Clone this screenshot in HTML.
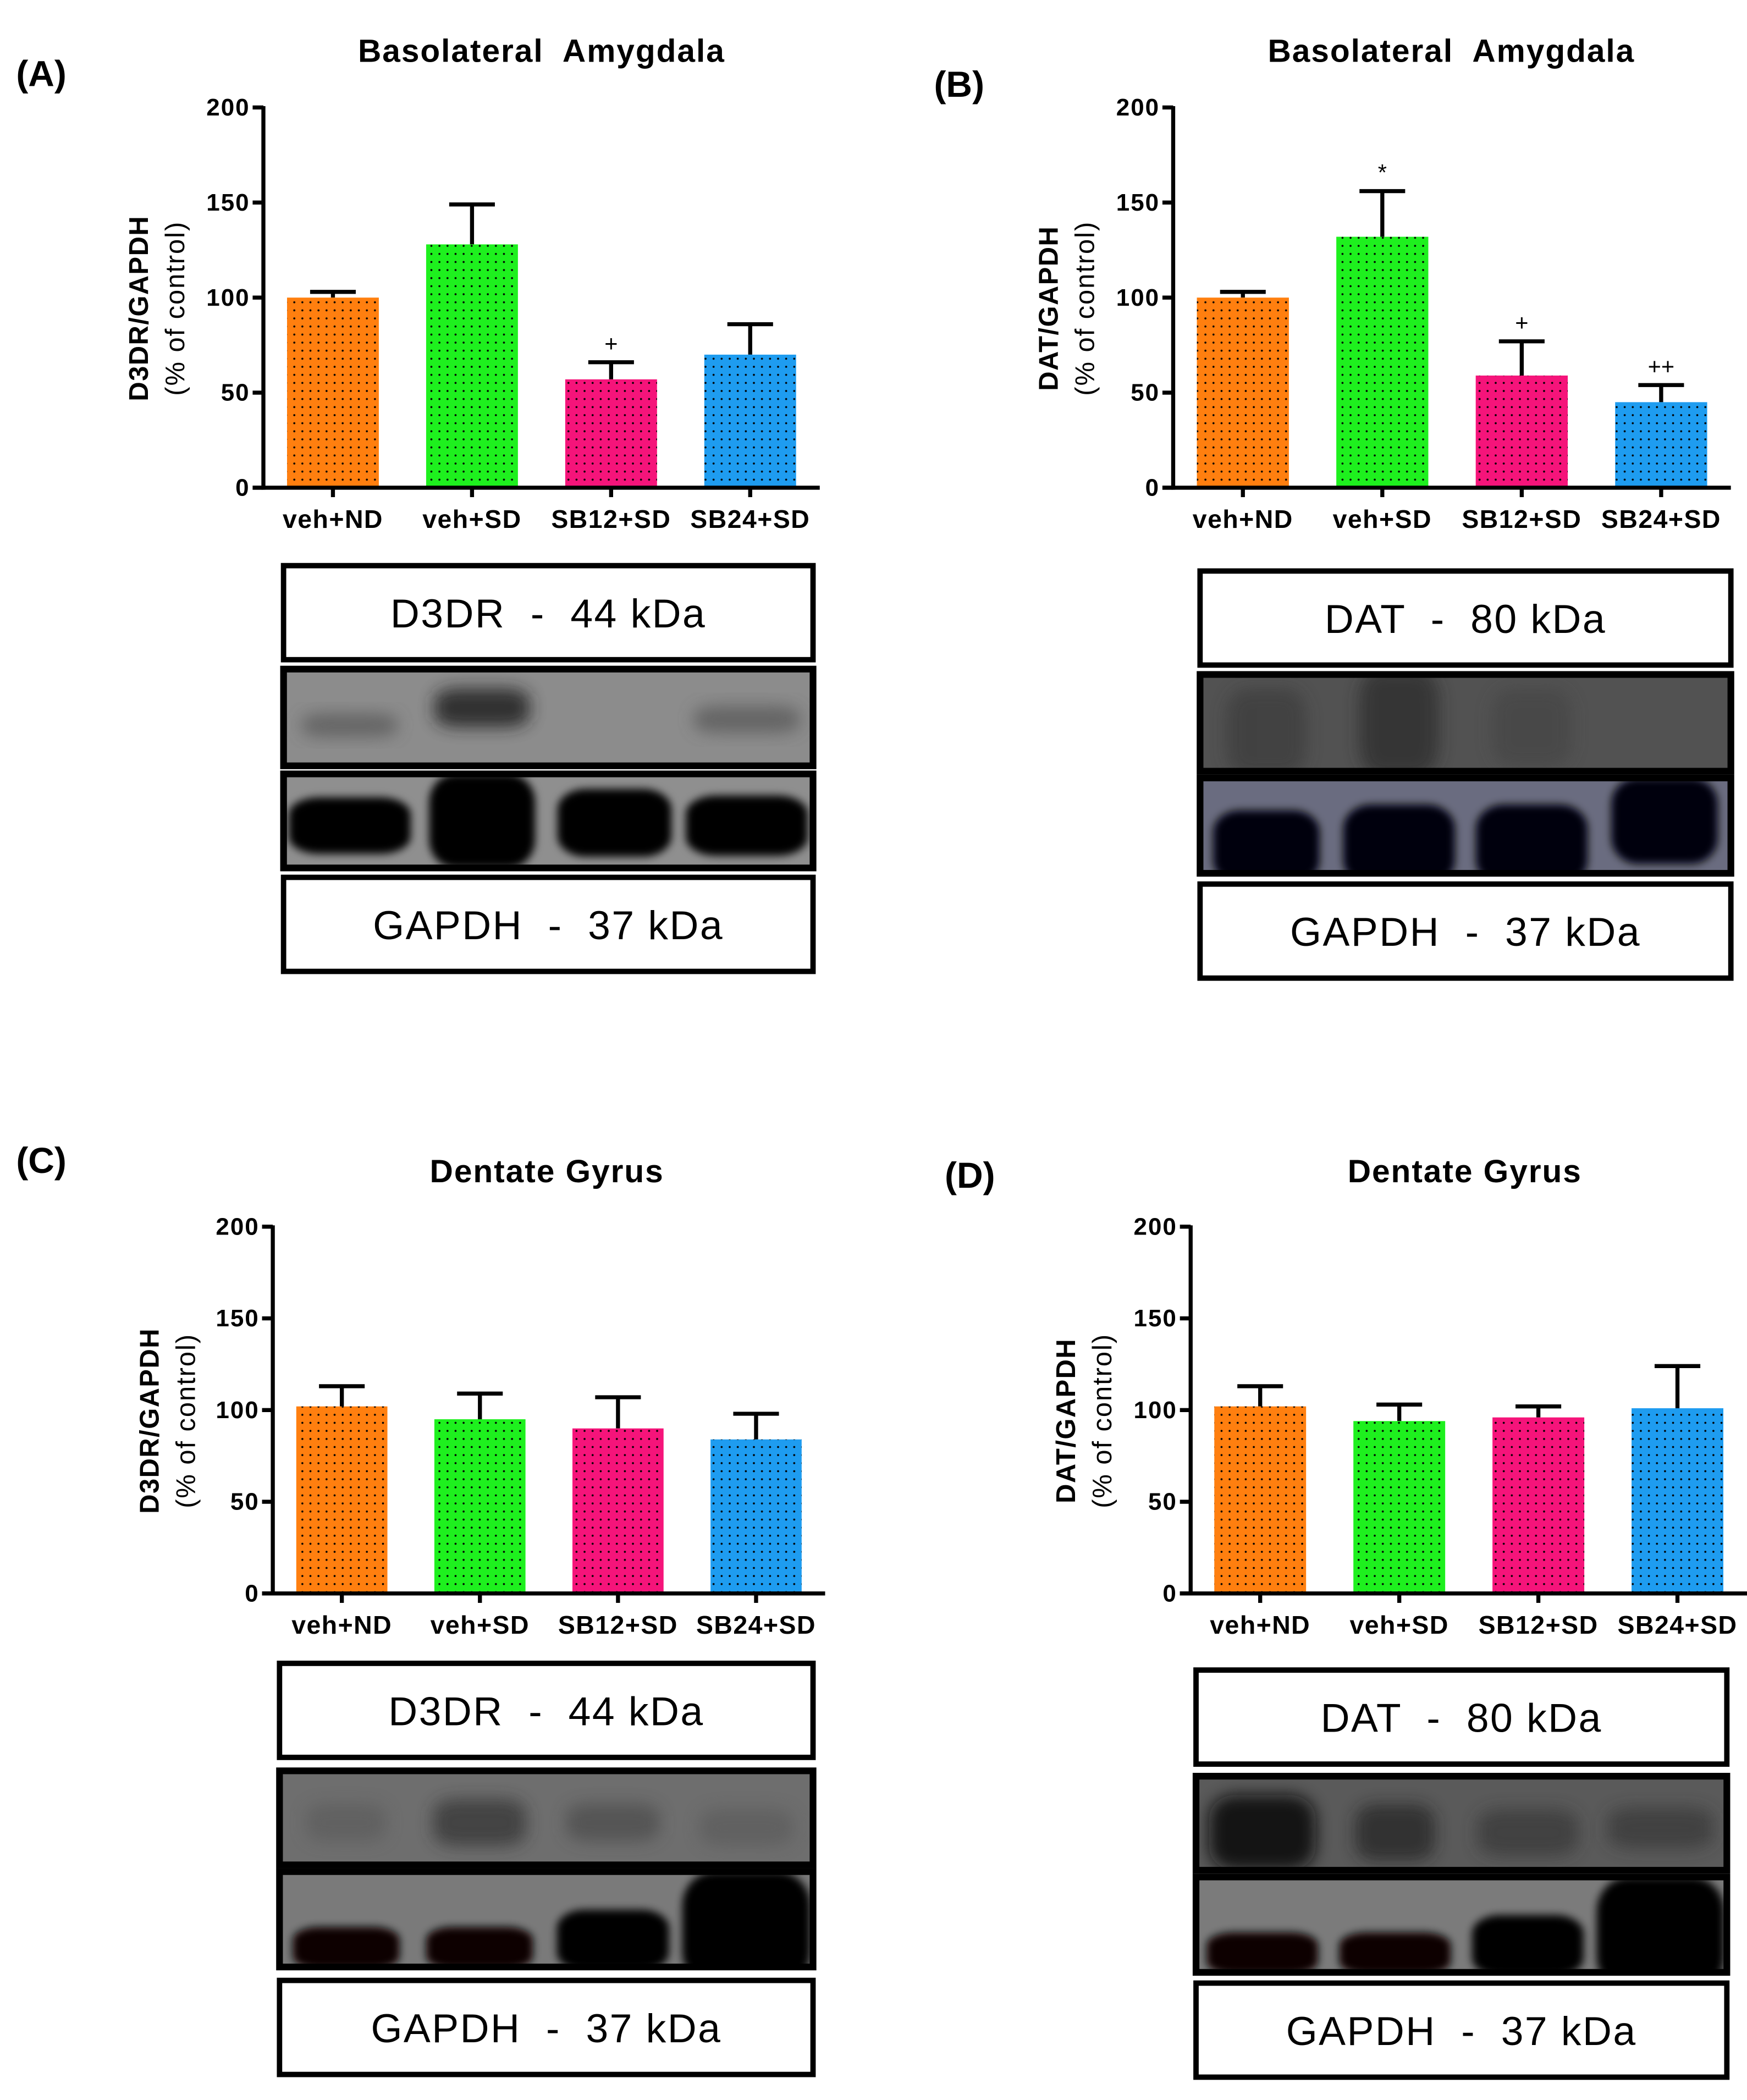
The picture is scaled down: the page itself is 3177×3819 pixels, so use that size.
<!DOCTYPE html>
<html><head><meta charset="utf-8"><style>
html,body{margin:0;padding:0;background:#fff}
svg{display:block}
text{font-family:"Liberation Sans",Arial,sans-serif;white-space:pre}
</style></head><body>
<svg id="fig" width="3177" height="3819" viewBox="0 0 1300 1563" preserveAspectRatio="none" xmlns="http://www.w3.org/2000/svg">
<defs>
<pattern id="dots" width="6" height="6" patternUnits="userSpaceOnUse"><circle cx="3" cy="3" r="0.75" fill="#000"/></pattern>
<filter id="blur6" x="-50%" y="-50%" width="200%" height="200%"><feGaussianBlur stdDeviation="6"/></filter>
<filter id="blur3" x="-50%" y="-50%" width="200%" height="200%"><feGaussianBlur stdDeviation="3"/></filter>
</defs>
<g id="root"></g>
</svg>
<script>
const NS="http://www.w3.org/2000/svg";
const root=document.getElementById('root');
const categories=["veh+ND","veh+SD","SB12+SD","SB24+SD"];
const colors=["#ff7f0f","#1ef01e","#f5147a","#1e9cf0"];
const yTicks=[0,50,100,150,200];
const valuesA=[100,128,57,70];
const errorsA=[103,149,66,86];
const marksA=["","","+",""];
const valuesB=[100,132,59,45];
const errorsB=[103,156,77,54];
const marksB=["","*","+","++"];
const valuesC=[102,95,90,84];
const errorsC=[113,109,107,98];
const marksC=["","","",""];
const valuesD=[102,94,96,101];
const errorsD=[113,103,102,124];
const marksD=["","","",""];

function mk(tag,attrs,parent,txt){const e=document.createElementNS(NS,tag);for(const k in attrs)e.setAttribute(k,attrs[k]);if(txt!==undefined)e.textContent=txt;(parent||root).appendChild(e);return e;}

function panel(o){
  const g=mk('g',{});
  
  
  const t=mk('text',{x:o.lx,y:o.ly,'font-size':27,'font-weight':'bold'},g,'('+o.id.toUpperCase()+')');
  
  
  const ti=mk('text',{x:o.tx,y:o.ty,'font-size':24,'font-weight':'bold','text-anchor':'middle','letter-spacing':0.8},g,o.title);
  
  
  const y0=o.y0,y200=o.ytop;
  const ys=v=>y0-(v/200)*(y0-y200);
  const step=(o.xend-o.ax)/4;
  const xc=i=>o.ax+step*(i+0.5);
  const bw=step*0.66;
  o.vals.forEach((v,i)=>{
    const eb=mk('g',{},g);
    
    
    mk('line',{x1:xc(i),x2:xc(i),y1:ys(v),y2:ys(o.errs[i]),stroke:'#000','stroke-width':3},eb);
    mk('line',{x1:xc(i)-17,x2:xc(i)+17,y1:ys(o.errs[i]),y2:ys(o.errs[i]),stroke:'#000','stroke-width':3},eb);
    const b=mk('rect',{x:xc(i)-bw/2,y:ys(v),width:bw,height:ys(0)-ys(v),fill:colors[i]},g);
    
    
    mk('rect',{x:xc(i)-bw/2,y:ys(v),width:bw,height:ys(0)-ys(v),fill:'url(#dots)'},g);
    if(o.marks[i]){const m=mk('text',{x:xc(i),y:ys(o.errs[i])-8,'font-size':17,'text-anchor':'middle'},g,o.marks[i]);
      
      }
    const xl=mk('text',{x:xc(i),y:y0+30,'font-size':19,'font-weight':'bold','text-anchor':'middle','letter-spacing':0.6},g,categories[i]);
    
    
    mk('line',{x1:xc(i),x2:xc(i),y1:y0,y2:y0+7,stroke:'#000','stroke-width':3},g);
  });
  const ya=mk('line',{x1:o.ax,x2:o.ax,y1:y200-1,y2:y0+1.5,stroke:'#000','stroke-width':3},g);
  
  
  const xa=mk('line',{x1:o.ax-8,x2:o.xend,y1:y0,y2:y0,stroke:'#000','stroke-width':3},g);
  
  
  yTicks.forEach(v=>{
    mk('line',{x1:o.ax-8,x2:o.ax,y1:ys(v),y2:ys(v),stroke:'#000','stroke-width':3},g);
    const tl=mk('text',{x:o.ax-10,y:ys(v)+6,'font-size':18,'font-weight':'bold','text-anchor':'end','letter-spacing':0.8},g,String(v));
    
    
  });
  const cy=(y0+y200)/2+8;
  const yt=mk('text',{transform:`translate(${o.ylx},${cy}) rotate(-90)`,'font-size':20,'font-weight':'bold','text-anchor':'middle','letter-spacing':0.6},g,o.ylabel);
  
  
  const yt2=mk('text',{transform:`translate(${o.ylx+27},${cy}) rotate(-90)`,'font-size':20,'text-anchor':'middle','letter-spacing':0.8},g,'(% of control)');
  
  
  const bx=o.bx,bwid=o.bw,B=o.boxes;
  const lab=(y,txt,name)=>{const gg=mk('g',{},g);
    mk('rect',{x:bx,y:y,width:bwid,height:70,fill:'#fff',stroke:'#000','stroke-width':4},gg);
    mk('text',{x:bx+bwid/2,y:y+46,'font-size':30,'text-anchor':'middle','letter-spacing':1},gg,txt);};
  lab(B[0],o.prot,'protein-label-box');
  lab(B[3],'GAPDH  -  37 kDa','gapdh-label-box');
  const blot=(y,h,bg,bands,name,blurId)=>{const gg=mk('g',{},g);
    const cid='c'+o.id+name;const cp=mk('clipPath',{id:cid},gg);mk('rect',{x:bx,y:y,width:bwid,height:h},cp);
    mk('rect',{x:bx,y:y,width:bwid,height:h,fill:bg},gg);
    const bg2=mk('g',{'clip-path':`url(#${cid})`},gg);
    const lw=bwid/4;
    bands.forEach((b,i)=>{if(b)mk('rect',{x:bx+lw*(i+0.5)-lw*b[1],y:y+h*b[0]-h*b[2],width:2*lw*b[1],height:2*h*b[2],rx:lw*b[1]*0.5,ry:h*b[2]*0.6,fill:b[3],opacity:b[4],filter:`url(#${blurId})`},bg2);});
    mk('rect',{x:bx,y:y,width:bwid,height:h,fill:'none',stroke:'#000','stroke-width':5},gg);};
  blot(B[1],o.h1,o.bg1,o.b1,'target-blot','blur6');
  blot(B[2],o.h2,o.bg2,o.b2,'gapdh-blot','blur3');
}

panel({id:'a',lx:12,ly:64,tx:403,ty:46,title:'Basolateral  Amygdala',ax:196,xend:610,ytop:80,y0:363,ylx:110,ylabel:'D3DR/GAPDH',
 vals:valuesA,errs:errorsA,marks:marksA,bx:211,bw:394,boxes:[421,498,576,653],prot:'D3DR  -  44 kDa',
 h1:72,bg1:'#8c8c8c',b1:[[0.58,0.36,0.12,'#555',0.7],[0.4,0.36,0.2,'#222',0.85],null,[0.52,0.4,0.14,'#555',0.7]],
 h2:70,bg2:'#8f8f8f',b2:[[0.55,0.46,0.3,'#000',1],[0.5,0.4,0.5,'#000',1],[0.52,0.43,0.36,'#000',1],[0.55,0.46,0.32,'#000',1]]});
panel({id:'b',lx:695,ly:72,tx:1080,ty:46,title:'Basolateral  Amygdala',ax:873,xend:1288,ytop:80,y0:363,ylx:787,ylabel:'DAT/GAPDH',
 vals:valuesB,errs:errorsB,marks:marksB,bx:893,bw:395,boxes:[425,502,579,658],prot:'DAT  -  80 kDa',
 h1:72,bg1:'#525252',b1:[[0.6,0.3,0.45,'#383838',0.6],[0.5,0.3,0.55,'#2a2a2a',0.7],[0.55,0.3,0.4,'#404040',0.5],null],
 h2:71,bg2:'#6a6c80',b2:[[0.72,0.4,0.38,'#000010',1],[0.7,0.42,0.42,'#000010',1],[0.7,0.42,0.42,'#000010',1],[0.45,0.4,0.45,'#000010',1]]});
panel({id:'c',lx:12,ly:873,tx:407,ty:880,title:'Dentate Gyrus',ax:203,xend:614,ytop:913,y0:1186,ylx:118,ylabel:'D3DR/GAPDH',
 vals:valuesC,errs:errorsC,marks:marksC,bx:208,bw:397,boxes:[1238,1318,1393,1474],prot:'D3DR  -  44 kDa',
 h1:70,bg1:'#6e6e6e',b1:[[0.55,0.3,0.2,'#555',0.5],[0.55,0.35,0.25,'#333',0.7],[0.55,0.35,0.2,'#444',0.6],[0.6,0.35,0.2,'#555',0.5]],
 h2:71,bg2:'#7a7a7a',b2:[[0.8,0.4,0.22,'#0a0500',1],[0.8,0.4,0.22,'#0a0500',1],[0.72,0.42,0.32,'#050200',1],[0.6,0.48,0.6,'#000',1]]});
panel({id:'d',lx:703,ly:884,tx:1090,ty:880,title:'Dentate Gyrus',ax:886,xend:1300,ytop:913,y0:1186,ylx:800,ylabel:'DAT/GAPDH',
 vals:valuesD,errs:errorsD,marks:marksD,bx:890,bw:395,boxes:[1243,1322,1397,1476],prot:'DAT  -  80 kDa',
 h1:70,bg1:'#5a5a5a',b1:[[0.6,0.4,0.4,'#111',0.9],[0.6,0.3,0.3,'#222',0.7],[0.6,0.38,0.25,'#333',0.6],[0.55,0.4,0.22,'#333',0.6]],
 h2:71,bg2:'#7b7b7b',b2:[[0.8,0.42,0.22,'#0a0500',1],[0.8,0.42,0.22,'#0a0500',1],[0.72,0.42,0.32,'#050200',1],[0.6,0.48,0.6,'#000',1]]});
</script>
</body></html>
